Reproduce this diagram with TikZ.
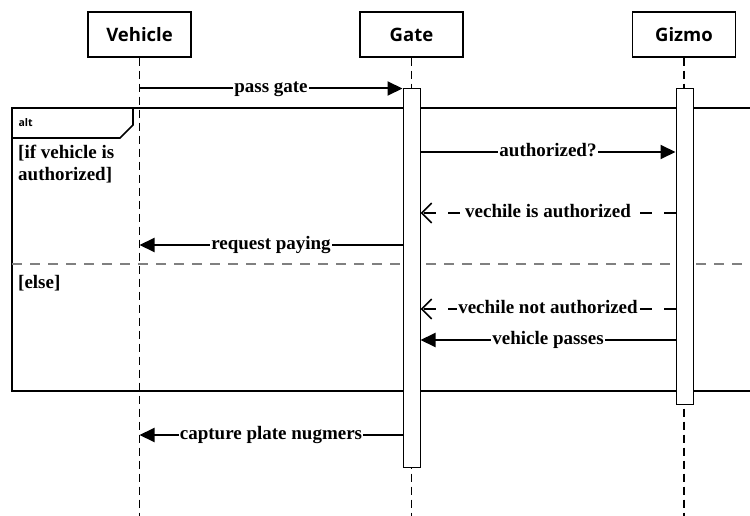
\documentclass[tikz,border=0pt]{standalone}
\usepackage{fontspec}
\setmainfont{Liberation Serif}
\newfontfamily\headfont{Open Sans}
\usetikzlibrary{arrows.meta}

\tikzset{
  obj/.style={draw, line width=1.2pt, minimum width=103pt, minimum height=45pt,
    font=\headfont\bfseries\fontsize{18.5}{22}\selectfont},
  life/.style={line width=1.2pt, dash pattern=on 8pt off 5pt},
  act/.style={draw, fill=white, line width=1pt, minimum width=17pt, inner sep=0pt},
  msg/.style={line width=2pt, -{Triangle[length=15pt,width=14pt]}},
  reply/.style={line width=2pt, dash pattern=on 12pt off 12pt,
    -{Straight Barb[length=10pt,width=20pt,line width=1.6pt]}},
  lbl/.style={fill=white, inner sep=1pt, text height=9pt, text depth=0pt,
    font=\bfseries\fontsize{19}{22}\selectfont},
}

\begin{document}
\begin{tikzpicture}[x=1pt, y=-1pt]
            \clip (0,0) rectangle (750,516);
            \coordinate (bottom) at (0,520);
            %绘制三个对象
            \node[obj] (vehicle) at (139.5,34.5) {Vehicle};
            \node[obj] (gate) at (411.5,34.5) {Gate};
            \node[obj] (gizmo) at (684,34.5) {Gizmo};
            %绘制生命线
            \foreach \o in {vehicle,gate,gizmo}{\draw[life] (\o.south) -- (\o.south |- bottom);}
            %绘制alt组合片段
            \draw[line width=2pt] (760,108) -- (12,108) -- (12,391) -- (760,391);
            \draw[line width=1.6pt] (12,138) -- (120,138) -- (133,125) -- (133,108);
            \node[anchor=west, font=\headfont\bfseries\fontsize{10.5}{12}\selectfont] (alt) at (15,123) {alt};
            \node[anchor=north west, align=left, inner sep=0pt, font=\bfseries\fontsize{19}{22}\selectfont] (g1) at (18,145) {[if vehicle is\\authorized]};
            \draw[gray, line width=1.3pt, dash pattern=on 10pt off 8pt] (12,264) -- (760,264);
            \node[anchor=west, inner sep=0pt, font=\bfseries\fontsize{19}{22}\selectfont] (g2) at (18,283) {[else]};
            %绘制激活条
            \node[act, minimum height=378pt] (gateact) at (411.5,278) {};
            \node[act, minimum height=315pt] (gizmoact) at (684.5,246.5) {};
            %消息所在的高度
            \coordinate (m2) at (0,152);
            \coordinate (m3) at (0,213);
            \coordinate (m4) at (0,245);
            \coordinate (m5) at (0,309);
            \coordinate (m6) at (0,340);
            \coordinate (m7) at (0,435);
            %绘制消息
            \draw[msg] (vehicle.south |- gateact.north) -- (gateact.north west) node[lbl, midway] {pass gate};
            \draw[msg] (gateact.east |- m2) -- (gizmoact.west |- m2) node[lbl, midway] {authorized?};
            \draw[reply] (gizmoact.west |- m3) -- (gateact.east |- m3) node[lbl, midway] {vechile is authorized};
            \draw[msg] (gateact.west |- m4) -- (vehicle.south |- m4) node[lbl, midway] {request paying};
            \draw[reply] (gizmoact.west |- m5) -- (gateact.east |- m5) node[lbl, midway] {vechile not authorized};
            \draw[msg] (gizmoact.west |- m6) -- (gateact.east |- m6) node[lbl, midway] {vehicle passes};
            \draw[msg] (gateact.west |- m7) -- (vehicle.south |- m7) node[lbl, midway] {capture plate nugmers};
        \end{tikzpicture}
\end{document}
